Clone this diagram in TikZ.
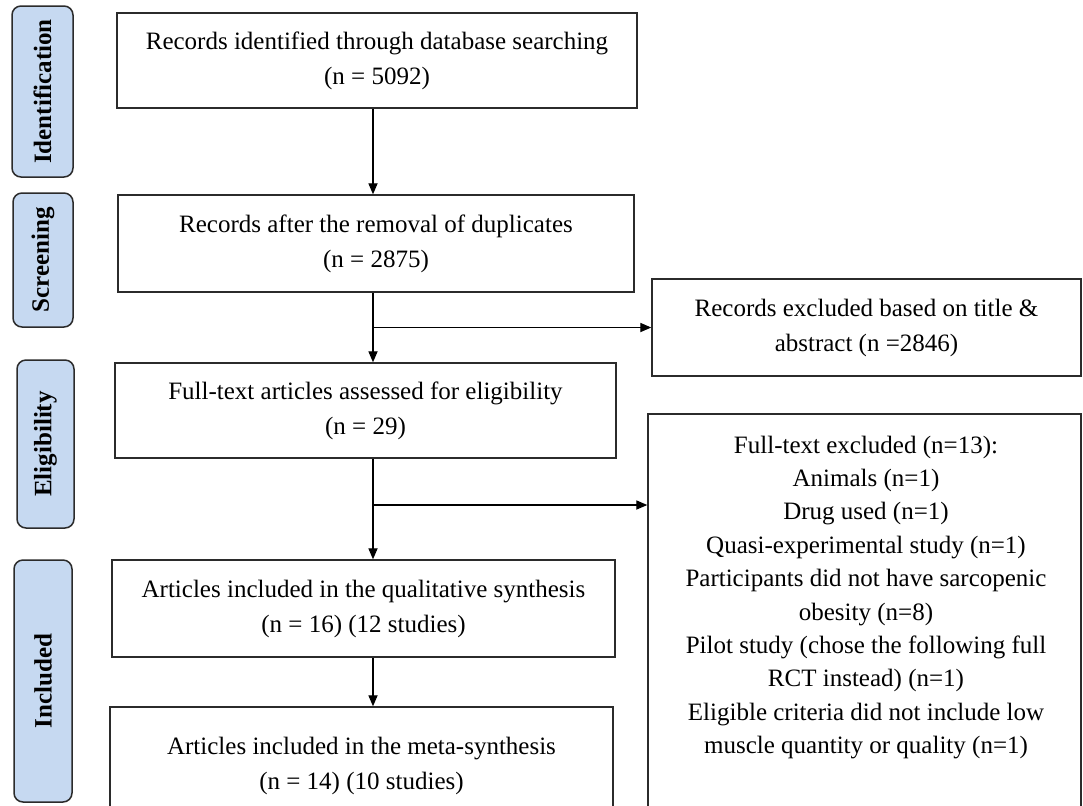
\documentclass[tikz,border=0pt]{standalone}
\usepackage{fontspec}
\setmainfont{Liberation Serif}
\usetikzlibrary{arrows.meta}
\definecolor{stagefill}{HTML}{C6D9F1}
\definecolor{edgegray}{HTML}{2B2B2B}
\tikzset{
  box/.style={draw=edgegray, line width=0.75pt, rectangle, align=center, inner sep=0pt,
    font=\fontsize{12.5}{17.5}\selectfont},
  stage/.style={draw=edgegray, fill=stagefill, line width=0.75pt, rounded corners=4.5pt,
    inner sep=0pt, font=\bfseries\fontsize{12.5}{15}\selectfont},
  stagetext/.style={rotate=90, font=\bfseries\fontsize{12.5}{15}\selectfont, inner sep=0pt},
  listtext/.style={align=center, inner sep=0pt, font=\fontsize{12.5}{16.7}\selectfont},
  arr/.style={draw=black, line width=0.55pt, -{Triangle[length=5.5pt,width=4.6pt]}},
  ln/.style={draw=black, line width=0.55pt}
}
\begin{document}
\begin{tikzpicture}[x=0.5pt,y=-0.5pt]
\useasboundingbox (0,0) rectangle (1083,805);
\clip (0,0) rectangle (1083,805);
\fill[white] (0,0) rectangle (1083,805);

% stage labels
\node[stage, minimum width=30.5pt, minimum height=85.5pt] (sid) at (42.5,91.5) {};
\node[stagetext] (tid) at (sid.center) {Identification};
\node[stage, minimum width=30pt, minimum height=67pt] (ssc) at (43,260) {};
\node[stagetext] (tsc) at (ssc.center) {Screening};
\node[stage, minimum width=28.5pt, minimum height=84pt] (sel) at (45.5,444) {};
\node[stagetext] (tel) at (sel.center) {Eligibility};
\node[stage, minimum width=29pt, minimum height=121pt] (sin) at (43,681) {};
\node[stagetext] (tin) at (sin.center) {Included};

% main boxes
\node[box, minimum width=260pt, minimum height=47.5pt] (b1) at (377,60.5)
  {Records identified through database searching\\(n = 5092)};
\node[box, minimum width=258pt, minimum height=48.5pt] (b2) at (376,243.5)
  {Records after the removal of duplicates\\(n = 2875)};
\node[box, minimum width=250.5pt, minimum height=47.5pt] (b3) at (365.5,410.5)
  {Full-text articles assessed for eligibility\\(n = 29)};
\node[box, minimum width=251.5pt, minimum height=48.5pt] (b4) at (363.5,608.5)
  {Articles included in the qualitative synthesis\\(n = 16) (12 studies)};
\node[box, minimum width=251.5pt, minimum height=58.5pt] (b5) at (361.5,765.5)
  {Articles included in the meta-synthesis\\(n = 14) (10 studies)};

% exclusion boxes
\node[box, minimum width=214.5pt, minimum height=48.5pt] (e1) at (866.5,327.5)
  {Records excluded based on title \&\\abstract (n =2846)};
\node[box, minimum width=216.5pt, minimum height=213pt] (e2) at (864.5,627) {};
\node[listtext] (e2t) at (866,597.5)
  {Full-text excluded (n=13):\\Animals (n=1)\\Drug used (n=1)\\Quasi-experimental study (n=1)\\Participants did not have sarcopenic\\obesity (n=8)\\Pilot study (chose the following full\\RCT instead) (n=1)\\Eligible criteria did not include low\\muscle quantity or quality (n=1)};

% connectors
\coordinate (col) at (373,0);
\coordinate (j1) at (373,327.5);
\coordinate (j2) at (373,505);
\draw[arr] (b1.south -| col) -- (b2.north -| col);
\draw[arr] (b2.south -| col) -- (b3.north -| col);
\draw[arr] (j1) -- (e1.west);
\draw[arr] (b3.south -| col) -- (b4.north -| col);
\draw[arr] (j2) -- (e2.west |- j2);
\draw[arr] (b4.south -| col) -- (b5.north -| col);
\end{tikzpicture}
\end{document}
